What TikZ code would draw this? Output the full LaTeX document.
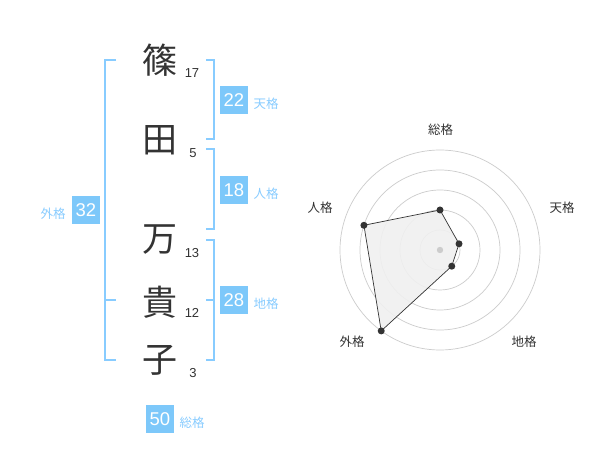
\documentclass[tikz,border=0pt]{standalone}
\usepackage{fontspec}
\setmainfont{Liberation Sans}
\newfontfamily\jpfont{Noto Sans CJK JP}
\usetikzlibrary{calc}
\definecolor{kakublue}{RGB}{136,204,255}
\definecolor{boxblue}{RGB}{125,200,250}
\definecolor{inkgray}{RGB}{51,51,51}
\definecolor{ringgray}{RGB}{204,204,204}
\definecolor{areagray}{RGB}{240,240,240}
\begin{document}
\begin{tikzpicture}[x=1pt,y=-1pt]
            % Define styles
            \tikzstyle{kanji} = [text=inkgray,font=\jpfont\fontsize{35}{35}\selectfont,inner sep=0]
            \tikzstyle{strokes} = [text=inkgray,font=\fontsize{13}{13}\selectfont,inner sep=0]
            \tikzstyle{valbox} = [fill=boxblue,text=white,font=\fontsize{18.5}{18.5}\selectfont,minimum width=28,minimum height=28,inner sep=0]
            \tikzstyle{kakulabel} = [text=kakublue,font=\jpfont\fontsize{12.5}{12.5}\selectfont,inner sep=0]
            \tikzstyle{bracket} = [line width=2pt,draw=kakublue]
            \tikzstyle{ring} = [draw=ringgray,line width=0.7pt]
            \tikzstyle{axislabel} = [text=inkgray,font=\jpfont\fontsize{12.5}{12.5}\selectfont,inner sep=0]
            \tikzstyle{dot} = [circle,fill=inkgray,inner sep=0,minimum size=7]
            % Page
            \useasboundingbox[fill=white] (0,0) rectangle (600,470);
            % Name characters
            	\node (k1) at (160,60) [kanji] {篠};
            	\node (k2) at (160,140) [kanji] {田};
            	\node (k3) at (160,240) [kanji] {万};
            	\node (k4) at (160,302) [kanji] {貴};
            	\node (k5) at (160,360) [kanji] {子};
            % Stroke counts
            	\node (s1) at (192,73) [strokes] {17};
            	\node (s2) at (193,153) [strokes] {5};
            	\node (s3) at (192,253) [strokes] {13};
            	\node (s4) at (192,313) [strokes] {12};
            	\node (s5) at (193,373) [strokes] {3};
            % Brackets
	            % Outer (left)
                \coordinate (gT) at (116,60);
                \coordinate (gM) at (116,300);
                \coordinate (gB) at (116,360);
                \draw [bracket] (gT) -- (105,60) -- (105,360) -- (gB);
                \draw [bracket] (105,300) -- (gM);
	            % Heaven
                \coordinate (tT) at (206,60);
                \coordinate (tB) at (206,139);
                \draw [bracket] (tT) -- (214,60) -- (214,139) -- (tB);
	            % Person
                \coordinate (jT) at (206,149);
                \coordinate (jB) at (206,229);
                \draw [bracket] (jT) -- (214,149) -- (214,229) -- (jB);
	            % Earth
                \coordinate (cT) at (206,240);
                \coordinate (cB) at (206,360);
                \draw [bracket] (cT) -- (214,240) -- (214,360) -- (cB);
                \draw [bracket] (214,300) -- (206,300);
            % Values and labels
            	\node (v22) at (234,100) [valbox] {22};
            	\node (l22) at (266,104) [kakulabel] {天格};
            	\node (v18) at (234,190) [valbox] {18};
            	\node (l18) at (266,194) [kakulabel] {人格};
            	\node (v28) at (234,300) [valbox] {28};
            	\node (l28) at (266,304) [kakulabel] {地格};
            	\node (v32) at (86,210) [valbox] {32};
            	\node (l32) at (53,214) [kakulabel] {外格};
            	\node (v50) at (160,419) [valbox] {50};
            	\node (l50) at (192,423) [kakulabel] {総格};
            % Radar chart
            	\coordinate (ctr) at (440,250);
                \foreach \r in {20,40,60,80,100}
                    \draw [ring] (ctr) circle (\r);
	            % Axis labels
                \node (aSo) at (440.5,130) [axislabel] {総格};
                \node (aTen) at (562,208) [axislabel] {天格};
                \node (aChi) at (524,342) [axislabel] {地格};
                \node (aGai) at (352,342) [axislabel] {外格};
                \node (aJin) at (320,208) [axislabel] {人格};
	            % Data points
                \coordinate (pSo) at ($(ctr)+(90:-40)$);
                \coordinate (pTen) at ($(ctr)+(-18:20)$);
                \coordinate (pChi) at ($(ctr)+(54:20)$);
                \coordinate (pGai) at ($(ctr)+(126:100)$);
                \coordinate (pJin) at ($(ctr)+(198:80)$);
                \draw [fill=areagray,fill opacity=0.9,draw=inkgray,line width=0.7pt] (pSo) -- (pTen) -- (pChi) -- (pGai) -- (pJin) -- cycle;
                \fill [ringgray] (ctr) circle (3.2);
                \foreach \p in {pSo,pTen,pChi,pGai,pJin}
                    \node at (\p) [dot] {};
\end{tikzpicture}
\end{document}
